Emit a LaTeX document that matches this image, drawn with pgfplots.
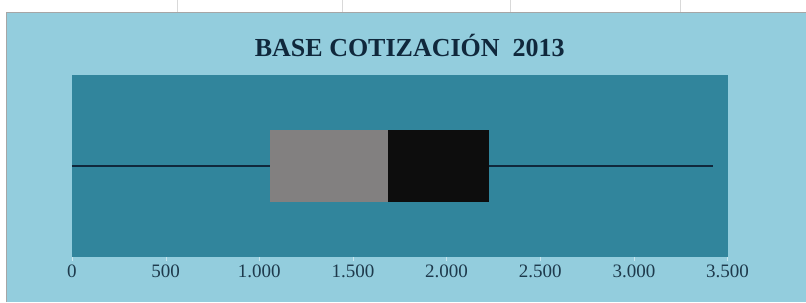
\documentclass[border=0pt]{standalone}
\usepackage{pgfplots}
\pgfplotsset{compat=1.18}
\usepackage{fontspec}
\setmainfont{Liberation Serif}
\definecolor{bgblue}{HTML}{93CDDD}
\definecolor{plotblue}{HTML}{31859C}
\definecolor{navy}{HTML}{10283C}
\definecolor{ticktext}{HTML}{1E3A4C}
\definecolor{boxgray}{HTML}{828080}
\definecolor{boxblack}{HTML}{0D0D0D}
\begin{document}
\begin{tikzpicture}[x=1pt,y=1pt]
\fill[white] (0,0) rectangle (806,302);
\fill[bgblue] (7,0) rectangle (806,290);
\draw[gray!70, line width=1pt] (7,0) -- (7,290) -- (806,290);
\foreach \x in {177,342,511,681} \draw[gray!30] (\x,290) -- (\x,302);
\node[font=\bfseries\fontsize{26}{26}\selectfont, text=navy] at (410,257) {BASE COTIZACIÓN\ \ 2013};
\begin{axis}[at={(72pt,45pt)}, anchor=south west, scale only axis,
  width=656pt, height=182pt, xmin=0, xmax=3500, ymin=-1.25, ymax=1.25,
  axis background/.style={fill=plotblue}, axis line style={draw=none},
  ytick=\empty, xtick={0,500,...,3500}, xtick pos=bottom, tick align=outside,
  major tick length=4pt, tick style={draw=bgblue!50!white},
  xticklabel style={font=\fontsize{19}{19}\selectfont, text=ticktext,
    /pgf/number format/1000 sep={.}, /pgf/number format/assume math mode=true},
  no marks, clip=false]
\addplot[navy, line width=2.6pt] coordinates {(0,0) (3420,0)};
\addplot[fill=boxgray, draw=none] coordinates {(1056,-0.5) (1686,-0.5) (1686,0.5) (1056,0.5)} --cycle;
\addplot[fill=boxblack, draw=none] coordinates {(1686,-0.5) (2225,-0.5) (2225,0.5) (1686,0.5)} --cycle;
\end{axis}
\end{tikzpicture}
\end{document}
